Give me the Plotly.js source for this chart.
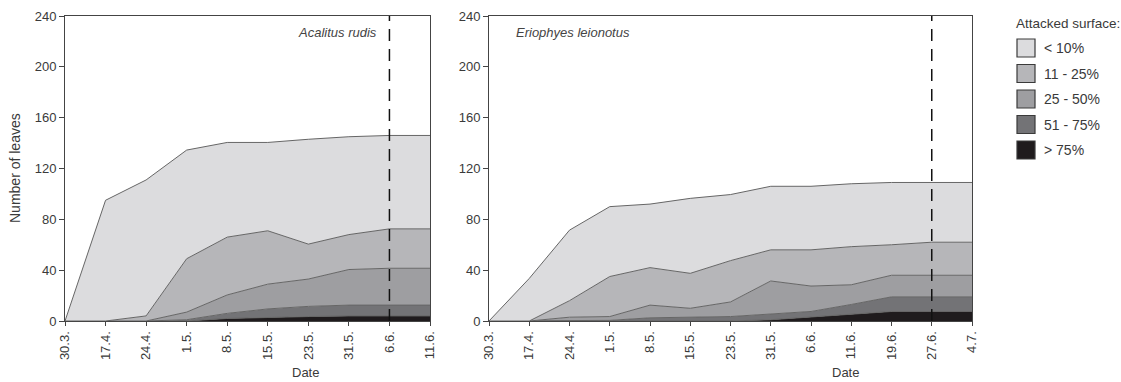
<!DOCTYPE html>
<html>
<head>
<meta charset="utf-8">
<script src="https://cdn.plot.ly/plotly-3.0.1.min.js"></script>
<style>
  html, body { margin: 0; padding: 0; background: #fff; }
  #chart { width: 1121px; height: 382px; }
</style>
</head>
<body>
<div id="chart"></div>
<script>
// ---- Data ----
const datesA = ["30.3.", "17.4.", "24.4.", "1.5.", "8.5.", "15.5.", "23.5.", "31.5.", "6.6.", "11.6."];
const datesB = ["30.3.", "17.4.", "24.4.", "1.5.", "8.5.", "15.5.", "23.5.", "31.5.", "6.6.", "11.6.", "19.6.", "27.6.", "4.7."];

const classNames = ["< 10%", "11 - 25%", "25 - 50%", "51 - 75%", "> 75%"];

// Acalitus rudis – number of leaves per attacked-surface class
const rudisLt10   = [0, 95, 107, 85.5, 74.5, 69.5, 82.5, 77, 73.5, 73.5];
const rudis11_25  = [0, 0, 4, 42, 45.5, 42, 27.5, 27.5, 31, 31];
const rudis25_50  = [0, 0, 0, 6, 14.5, 19.5, 21.5, 28, 29, 29];
const rudis51_75  = [0, 0, 0, 1, 4, 6.5, 8, 8.5, 8.5, 8.5];
const rudisGt75   = [0, 0, 0, 0, 2, 3, 3.5, 4, 4, 4];

// Eriophyes leionotus
const leioLt10    = [0, 33.5, 55.5, 55, 50, 59, 52, 50, 50, 49.5, 49, 47, 47];
const leio11_25   = [0, 0, 13, 31.5, 29.5, 27.5, 32.5, 24.5, 28.5, 30, 24, 26, 26];
const leio25_50   = [0, 0, 3, 3, 10, 7, 11.5, 26, 20, 15.5, 17, 17, 17];
const leio51_75   = [0, 0, 0, 0.5, 2.5, 3, 3.5, 4.5, 4.5, 8, 11.5, 11.5, 11.5];
const leioGt75    = [0, 0, 0, 0, 0, 0, 0, 1, 3, 5, 7.5, 7.5, 7.5];

const markerDateA = "6.6.";
const markerDateB = "27.6.";
const yTicks = [0, 40, 80, 120, 160, 200, 240];

// ---- Styles ----
const fills = ["#dcdcde", "#b6b6b9", "#9e9ea1", "#737376", "#1f1b1d"];
const edge = "#666666";
const txt = "#3a3a3a";
const FONT = "Liberation Sans, Arial, sans-serif";

function stackTraces(x, series, xa, ya, grp) {
  const out = [];
  for (let i = series.length - 1; i >= 0; i--) {
    out.push({
      type: "scatter", mode: "lines", x: x, y: series[i],
      xaxis: xa, yaxis: ya, stackgroup: grp,
      name: classNames[i], showlegend: false,
      line: { color: edge, width: 1 },
      fillcolor: fills[i], hoverinfo: "skip"
    });
  }
  return out;
}

const traces = [].concat(
  stackTraces(datesA, [rudisLt10, rudis11_25, rudis25_50, rudis51_75, rudisGt75], "x", "y", "A"),
  stackTraces(datesB, [leioLt10, leio11_25, leio25_50, leio51_75, leioGt75], "x2", "y2", "B")
);

const W = 1121;
const axisCommon = {
  showline: true, mirror: true, linecolor: "#444", linewidth: 1,
  ticks: "outside", ticklen: 4, tickcolor: "#444", tickwidth: 1,
  showgrid: false, zeroline: false,
  tickfont: { family: FONT, size: 13, color: txt }
};

const layout = {
  width: 1121, height: 382,
  margin: { l: 0, r: 0, t: 16, b: 61 },
  paper_bgcolor: "#fff", plot_bgcolor: "#fff",
  showlegend: false,
  font: { family: FONT, color: txt },
  xaxis: Object.assign({}, axisCommon, {
    domain: [65 / W, 430 / W], type: "category",
    range: [0, datesA.length - 1], tickangle: -90, anchor: "y"
  }),
  yaxis: Object.assign({}, axisCommon, {
    range: [0, 240], tickvals: yTicks, anchor: "x", ticklen: 5
  }),
  xaxis2: Object.assign({}, axisCommon, {
    domain: [489 / W, 972 / W], type: "category",
    range: [0, datesB.length - 1], tickangle: -90, anchor: "y2"
  }),
  yaxis2: Object.assign({}, axisCommon, {
    range: [0, 240], tickvals: yTicks, anchor: "x2", ticklen: 5
  }),
  shapes: [
    { type: "line", xref: "x", yref: "y domain", x0: datesA.indexOf(markerDateA), x1: datesA.indexOf(markerDateA),
      y0: 0, y1: 1, line: { color: "#111", width: 1.5, dash: "12px,8px" }, layer: "above" },
    { type: "line", xref: "x2", yref: "y2 domain", x0: datesB.indexOf(markerDateB), x1: datesB.indexOf(markerDateB),
      y0: 0, y1: 1, line: { color: "#111", width: 1.5, dash: "12px,8px" }, layer: "above" }
  ],
  annotations: [
    { text: "Number of leaves", xref: "paper", yref: "paper", x: 15 / W, y: (321 - 168) / 305,
      textangle: -90, showarrow: false, font: { family: FONT, size: 14, color: txt }, xanchor: "center", yanchor: "middle" },
    { text: "Date", xref: "paper", yref: "paper", x: 305 / W, y: -51 / 305, showarrow: false,
      font: { family: FONT, size: 13, color: txt }, xanchor: "center", yanchor: "middle" },
    { text: "Date", xref: "paper", yref: "paper", x: 845 / W, y: -51 / 305, showarrow: false,
      font: { family: FONT, size: 13, color: txt }, xanchor: "center", yanchor: "middle" },
    { text: "<i>Acalitus rudis</i>", xref: "paper", yref: "paper", x: 337 / W, y: 1 - 17 / 305, showarrow: false,
      font: { family: FONT, size: 13, color: "#444" }, xanchor: "center", yanchor: "middle" },
    { text: "<i>Eriophyes leionotus</i>", xref: "paper", yref: "paper", x: 573 / W, y: 1 - 17 / 305, showarrow: false,
      font: { family: FONT, size: 13, color: "#444" }, xanchor: "center", yanchor: "middle" },
    { text: "Attacked surface:", xref: "paper", yref: "paper", x: 1014 / W, y: 1 - 7 / 305, showarrow: false,
      font: { family: FONT, size: 13.5, color: txt }, xanchor: "left", yanchor: "middle" }
  ]
};

// custom legend
classNames.forEach((name, i) => {
  const cy = 48 + i * 25.5;
  const toPaperY = p => 1 - (p - 16) / 305;
  layout.shapes.push({
    type: "rect", xref: "paper", yref: "paper",
    x0: 1017 / W, x1: 1035 / W, y0: toPaperY(cy - 9), y1: toPaperY(cy + 9),
    fillcolor: fills[i], line: { color: "#3a3a3a", width: 1.2 }
  });
  layout.annotations.push({
    text: name, xref: "paper", yref: "paper", x: 1042 / W, y: toPaperY(cy),
    showarrow: false, xanchor: "left", yanchor: "middle",
    font: { family: FONT, size: 14, color: txt }
  });
});

Plotly.newPlot("chart", traces, layout, { staticPlot: true, displayModeBar: false });
</script>
</body>
</html>
